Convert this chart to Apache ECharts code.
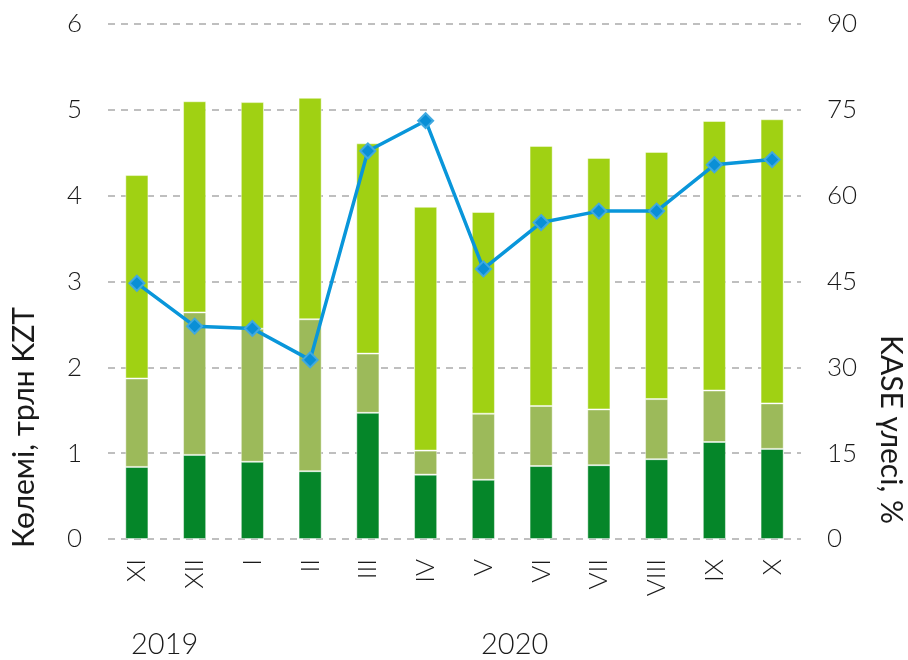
<!DOCTYPE html>
<html>
<head>
<meta charset="utf-8">
<script src="https://cdn.jsdelivr.net/npm/echarts@6/dist/echarts.min.js"></script>
<style>
  html, body { margin: 0; padding: 0; background: #fff; }
  #chart { width: 908px; height: 660px; }
</style>
</head>
<body>
<div id="chart"></div>
<script>
// months (Nov 2019 - Oct 2020)
const months = ['XI', 'XII', 'I', 'II', 'III', 'IV', 'V', 'VI', 'VII', 'VIII', 'IX', 'X'];
// stacked volume, trillion KZT
const darkPart = [0.84, 0.98, 0.90, 0.79, 1.47, 0.75, 0.69, 0.85, 0.86, 0.93, 1.13, 1.05];
const olivePart = [1.03, 1.66, 1.55, 1.77, 0.69, 0.28, 0.77, 0.70, 0.65, 0.70, 0.60, 0.53];
const lightPart = [2.37, 2.46, 2.64, 2.58, 2.45, 2.84, 2.35, 3.03, 2.93, 2.88, 3.14, 3.31];
// KASE share, %
const kaseShare = [44.7, 37.2, 36.8, 31.3, 67.8, 73.1, 47.2, 55.3, 57.3, 57.3, 65.4, 66.3];
const leftTicks = [0, 1, 2, 3, 4, 5, 6];
const rightTicks = [0, 15, 30, 45, 60, 75, 90];

const font = 'Lato, "Open Sans", sans-serif';
const textColor = '#1a1a1a';

const chart = echarts.init(document.getElementById('chart'));

const barSeries = (name, data, color) => ({
  name,
  type: 'bar',
  stack: 'vol',
  yAxisIndex: 0,
  barWidth: '40%',
  data,
  itemStyle: { color, borderColor: 'rgba(255,255,255,0.45)', borderWidth: 1 },
  emphasis: { disabled: true },
});

chart.setOption({
  animation: false,
  grid: { left: 108, right: 107, top: 24, bottom: 121 },
  xAxis: {
    type: 'category',
    data: months,
    axisLine: { show: false },
    axisTick: { show: false },
    axisLabel: {
      rotate: 90,
      margin: 20,
      fontSize: 26,
      fontFamily: font,
      fontWeight: 300,
      color: textColor,
    },
  },
  yAxis: [
    {
      type: 'value',
      min: leftTicks[0],
      max: leftTicks[leftTicks.length - 1],
      interval: 1,
      axisLine: { show: false },
      axisTick: { show: false },
      axisLabel: { margin: 26, fontSize: 26, fontFamily: font, fontWeight: 300, color: textColor },
      splitLine: { lineStyle: { color: '#bfbfbf', width: 2, type: [7, 6] } },
    },
    {
      type: 'value',
      min: rightTicks[0],
      max: rightTicks[rightTicks.length - 1],
      interval: 15,
      position: 'right',
      axisLine: { show: false },
      axisTick: { show: false },
      axisLabel: { margin: 26, fontSize: 26, fontFamily: font, fontWeight: 300, color: textColor },
      splitLine: { show: false },
    },
  ],
  series: [
    barSeries('dark', darkPart, '#058629'),
    barSeries('olive', olivePart, '#9cba5a'),
    barSeries('light', lightPart, '#a0d113'),
    {
      name: 'KASE',
      type: 'line',
      yAxisIndex: 1,
      data: kaseShare,
      symbol: 'diamond',
      symbolSize: 15,
      lineStyle: { color: '#0996da', width: 3.5 },
      itemStyle: { color: '#0a8fd6', borderColor: '#40a9e0', borderWidth: 2 },
      z: 5,
    },
  ],
  graphic: [
    {
      type: 'text',
      left: 9, top: 307,
      rotation: Math.PI / 2,
      style: { text: 'Көлемі, трлн KZT', font: '400 30px ' + font, fill: textColor },
    },
    {
      type: 'text',
      x: 906, y: 335,
      rotation: -Math.PI / 2,
      style: { text: 'KASE үлесі, %', font: '400 30px ' + font, fill: textColor },
    },
    {
      type: 'text',
      x: 131, y: 630,
      style: { text: '2019', font: '300 29px ' + font, fill: textColor },
    },
    {
      type: 'text',
      x: 481, y: 630,
      style: { text: '2020', font: '300 29px ' + font, fill: textColor },
    },
  ],
});
</script>
</body>
</html>
